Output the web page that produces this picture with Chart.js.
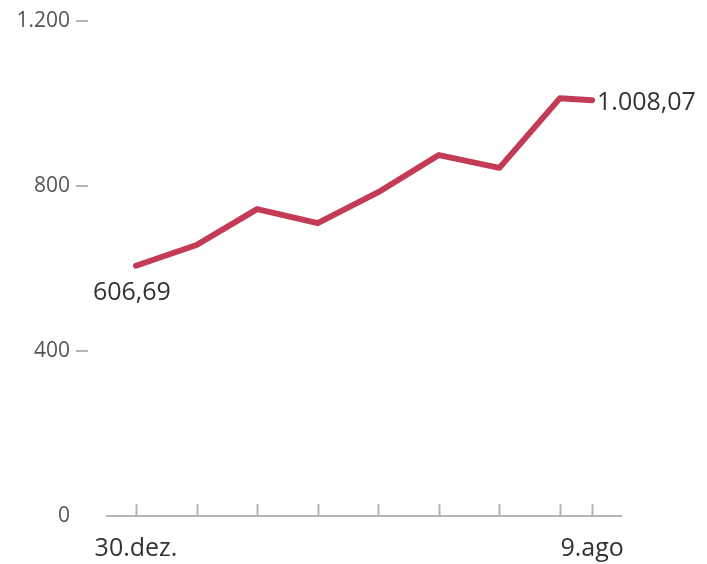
<!DOCTYPE html>
<html>
<head>
<meta charset="utf-8">
<script src="https://cdn.jsdelivr.net/npm/chart.js@4"></script>
<style>
  html, body { margin: 0; padding: 0; background: #fff; }
  #wrap { width: 707px; height: 564px; }
</style>
</head>
<body>
<div id="wrap"><canvas id="chart"></canvas></div>
<script>
// x positions (month steps from 30.dez.), last point is 9.ago
const xValues = [0, 1, 2, 3, 4, 5, 6, 7, 7.53];
const yValues = [606.69, 657, 744, 710, 785, 875, 844, 1013, 1008.07];
const xTicks = [0, 1, 2, 3, 4, 5, 6, 7, 7.53];
const xTickLabels = ['30.dez.', '', '', '', '', '', '', '', '9.ago'];
const yTicks = [0, 400, 800, 1200];
const endLabels = ['606,69', '1.008,07'];

const lineColor = '#c43b55';
const axisColor = '#b5b5b5';

// axis line + upward tick marks on x
const axisPlugin = {
  id: 'axisPlugin',
  afterDraw(chart) {
    const ctx = chart.ctx;
    const xs = chart.scales.x;
    const ys = chart.scales.y;
    const y0 = ys.getPixelForValue(0);
    ctx.save();
    ctx.strokeStyle = axisColor;
    ctx.lineWidth = 2;
    ctx.beginPath();
    ctx.moveTo(xs.getPixelForValue(-0.5), y0);
    ctx.lineTo(xs.right, y0);
    xTicks.forEach(v => {
      const px = Math.round(xs.getPixelForValue(v)) + 0.5;
      ctx.moveTo(px, y0);
      ctx.lineTo(px, y0 - 12);
    });
    ctx.stroke();
    ctx.restore();
  }
};

// value labels at start and end of the line
const endLabelPlugin = {
  id: 'endLabelPlugin',
  afterDatasetsDraw(chart) {
    const ctx = chart.ctx;
    const pts = chart.getDatasetMeta(0).data;
    const first = pts[0];
    const last = pts[pts.length - 1];
    ctx.save();
    ctx.font = '25px "Open Sans"';
    ctx.fillStyle = '#333';
    ctx.textBaseline = 'middle';
    ctx.textAlign = 'left';
    ctx.fillText(endLabels[0], first.x - 43, first.y + 27);
    ctx.fillText(endLabels[1], last.x + 5, last.y + 3);
    ctx.restore();
  }
};

new Chart(document.getElementById('chart'), {
  type: 'line',
  data: {
    datasets: [{
      data: xValues.map((x, i) => ({ x: x, y: yValues[i] })),
      borderColor: lineColor,
      borderWidth: 6,
      pointRadius: 0,
      tension: 0,
      borderJoinStyle: 'round',
      borderCapStyle: 'round'
    }]
  },
  options: {
    responsive: true,
    maintainAspectRatio: false,
    animation: false,
    layout: { padding: { top: 21, right: 85, left: 0, bottom: 0 } },
    plugins: { legend: { display: false }, tooltip: { enabled: false } },
    scales: {
      x: {
        type: 'linear',
        min: -0.792,
        max: 8.024,
        border: { display: false },
        grid: { display: false },
        afterBuildTicks: scale => { scale.ticks = xTicks.map(v => ({ value: v })); },
        afterFit: scale => { scale.height = 48; },
        ticks: {
          autoSkip: false,
          maxRotation: 0,
          padding: 10,
          color: '#333',
          font: { family: 'Open Sans', size: 25 },
          callback: (v, i) => xTickLabels[i]
        }
      },
      y: {
        min: 0,
        max: 1200,
        border: { display: false },
        grid: {
          drawOnChartArea: false,
          drawTicks: true,
          tickLength: 12,
          lineWidth: 2,
          tickColor: ctx => ctx.tick && ctx.tick.value === 0 ? 'rgba(0,0,0,0)' : axisColor
        },
        afterBuildTicks: scale => { scale.ticks = yTicks.map(v => ({ value: v })); },
        afterFit: scale => { scale.width = 88; },
        ticks: {
          padding: 6,
          color: '#555',
          font: { family: 'Open Sans', size: 21 },
          callback: v => v.toLocaleString('de-DE')
        }
      }
    }
  },
  plugins: [axisPlugin, endLabelPlugin]
});
</script>
</body>
</html>
